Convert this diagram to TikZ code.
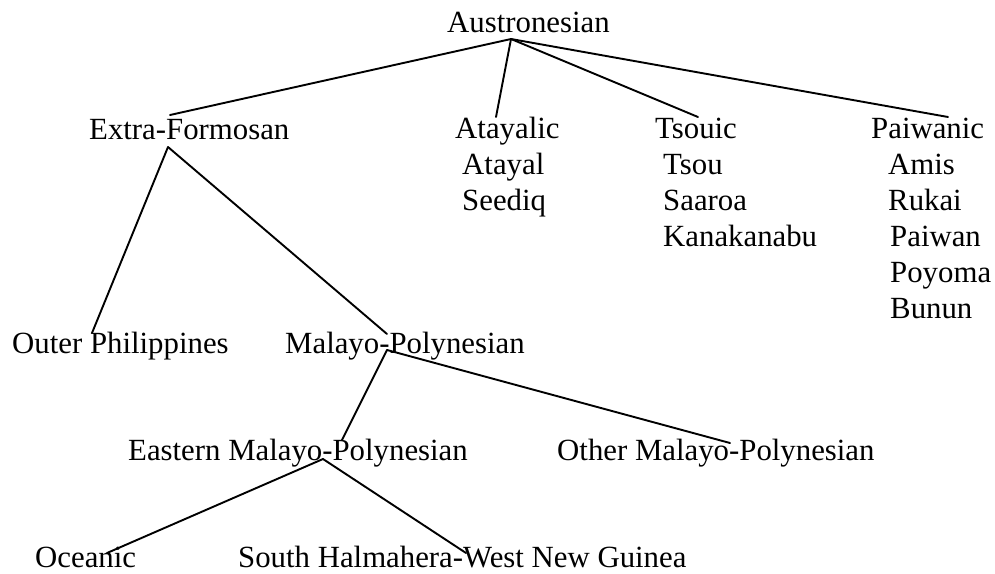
\documentclass[tikz,border=0pt]{standalone}
\usepackage{fontspec}
\setmainfont{Liberation Serif}
\begin{document}
\begin{tikzpicture}[x=1pt,y=-1pt,
  lang/.style={anchor=base west,inner sep=0pt,font=\fontsize{30.8}{36}\selectfont},
  branch/.style={line width=1.9pt,line cap=round}]
\useasboundingbox (0,0) rectangle (995,573);

% language names (baseline positions)
\node[lang] (austronesian) at (447,32) {Austronesian};
\node[lang] (extraformosan) at (89,139) {Extra-Formosan};
\node[lang] (atayalic) at (455,138) {Atayalic};
\node[lang] (atayal) at (462,174) {Atayal};
\node[lang] (seediq) at (462,210) {Seediq};
\node[lang] (tsouic) at (655,138) {Tsouic};
\node[lang] (tsou) at (663,174) {Tsou};
\node[lang] (saaroa) at (663,210) {Saaroa};
\node[lang] (kanakanabu) at (663,246) {Kanakanabu};
\node[lang] (paiwanic) at (871,138) {Paiwanic};
\node[lang] (amis) at (888,174) {Amis};
\node[lang] (rukai) at (888,210) {Rukai};
\node[lang] (paiwan) at (890,246) {Paiwan};
\node[lang] (poyoma) at (890,282) {Poyoma};
\node[lang] (bunun) at (890,318) {Bunun};
\node[lang] (outerphil) at (12,353) {Outer Philippines};
\node[lang] (malayopoly) at (285,353) {Malayo-Polynesian};
\node[lang] (eastmp) at (128,460) {Eastern Malayo-Polynesian};
\node[lang] (othermp) at (557,460) {Other Malayo-Polynesian};
\node[lang] (oceanic) at (35,567) {Oceanic};
\node[lang] (shwng) at (238,567) {South Halmahera-West New Guinea};

% branch end points
\coordinate (austronesian-foot) at (511,39);
\coordinate (extraformosan-head) at (170,115);
\coordinate (atayalic-head) at (496,117);
\coordinate (tsouic-head) at (698,117);
\coordinate (paiwanic-head) at (948,117);
\coordinate (extraformosan-foot) at (168,147);
\coordinate (outerphil-head) at (92,333);
\coordinate (malayopoly-head) at (387,334);
\coordinate (malayopoly-foot) at (387,350);
\coordinate (eastmp-head) at (342,440);
\coordinate (othermp-head) at (730,443);
\coordinate (eastmp-foot) at (323,459);
\coordinate (oceanic-head) at (107,553);
\coordinate (shwng-head) at (466,553);

% tree branches
\draw[branch] (austronesian-foot) -- (extraformosan-head);
\draw[branch] (austronesian-foot) -- (atayalic-head);
\draw[branch] (austronesian-foot) -- (tsouic-head);
\draw[branch] (austronesian-foot) -- (paiwanic-head);
\draw[branch] (extraformosan-foot) -- (outerphil-head);
\draw[branch] (extraformosan-foot) -- (malayopoly-head);
\draw[branch] (malayopoly-foot) -- (eastmp-head);
\draw[branch] (malayopoly-foot) -- (othermp-head);
\draw[branch] (eastmp-foot) -- (oceanic-head);
\draw[branch] (eastmp-foot) -- (shwng-head);
\end{tikzpicture}
\end{document}
